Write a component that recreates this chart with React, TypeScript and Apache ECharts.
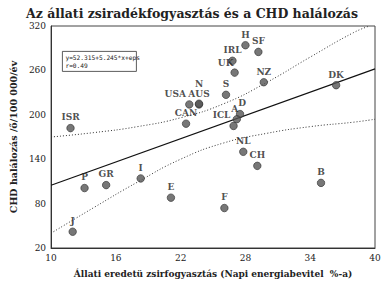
import React, { useEffect, useRef } from "react";
import * as echarts from "echarts";

const countries = ["J", "P", "GR", "I", "E", "ISR", "CAN", "USA", "AUS", "N", "S", "IRL", "UK", "H", "SF", "NZ", "D", "A", "ICL", "NL", "CH", "B", "F", "DK"];
const fatPct = [12.0, 13.1, 15.1, 18.3, 21.1, 11.8, 22.5, 22.8, 23.7, 23.7, 26.2, 26.8, 27.0, 28.0, 29.2, 29.7, 27.5, 27.2, 26.9, 27.8, 29.1, 35.0, 26.05, 36.4];
const chdRate = [42, 101, 105, 114, 88, 182, 188, 214, 214, 215, 227, 273, 257, 294, 285, 244, 201, 194, 185, 150, 131, 108, 74, 240];
const labelOffsets: Record<string, [number, number]> = { USA: [-14, 0], N: [0, -9], UK: [-9, 1], ICL: [-12, 0], A: [-2, 0], D: [2, 0] };

const xTicks = [10, 16, 22, 28, 34, 40];
const yTicks = [20, 80, 140, 200, 260, 320];

const bandX = [10, 14, 18, 22, 26, 30, 34, 38, 39.5];
const upperBand = [170, 176, 184, 196, 215, 244, 278, 311, 320];
const lowerX = [10, 14, 18, 22, 26, 30, 34, 38, 40];
const lowerBand = [40, 75, 109, 140, 162, 175, 184, 190, 194];

const regIntercept = 52.315;
const regSlope = 5.245;

const serif = "'DejaVu Serif', 'Liberation Serif', serif";

export default function App() {
  const ref = useRef<HTMLDivElement>(null);
  useEffect(() => {
    const chart = echarts.init(ref.current!, null, { renderer: "svg" });
    const pts = countries.map((c, i) => {
      const off = labelOffsets[c] || [0, 0];
      return {
        name: c,
        value: [fatPct[i], chdRate[i]],
        label: { offset: off },
      };
    });
    chart.setOption({
      animation: false,
      backgroundColor: "#fff",
      title: {
        text: "Az állati zsiradékfogyasztás és a CHD halálozás",
        left: "center",
        top: 2,
        textStyle: { fontFamily: serif, fontWeight: "bold", fontSize: 12.5, color: "#222" },
      },
      grid: { left: 43, right: 9, top: 26, bottom: 40, show: true, borderColor: "#444", borderWidth: 1 },
      xAxis: {
        type: "value",
        min: 10,
        max: 40,
        name: "Állati eredetü zsirfogyasztás (Napi energiabevitel  %-a)",
        nameLocation: "middle",
        nameGap: 21,
        nameTextStyle: { fontFamily: serif, fontSize: 9, fontWeight: "bold", color: "#222" },
        axisLine: { show: true, lineStyle: { color: "#333" } },
        axisTick: { show: false, customValues: xTicks },
        axisLabel: { customValues: xTicks, fontFamily: serif, fontSize: 9, color: "#222", margin: 5 },
        splitLine: { show: false },
      },
      yAxis: {
        type: "value",
        min: 20,
        max: 320,
        name: "CHD halálozás /ő/100 000/év",
        nameLocation: "middle",
        nameGap: 30,
        nameTextStyle: { fontFamily: serif, fontSize: 9.5, fontWeight: "bold", color: "#222" },
        axisLine: { show: true, lineStyle: { color: "#333" } },
        axisTick: { show: false, customValues: yTicks },
        axisLabel: { customValues: yTicks, fontFamily: serif, fontSize: 9, color: "#222", margin: 5 },
        splitLine: { show: false },
      },
      series: [
        {
          type: "line",
          data: [10, 40].map((x) => [x, regIntercept + regSlope * x]),
          showSymbol: false,
          lineStyle: { color: "#111", width: 1.2 },
          z: 2,
        },
        {
          type: "line",
          data: bandX.map((x, i) => [x, upperBand[i]]),
          showSymbol: false,
          smooth: true,
          lineStyle: { color: "#333", width: 1, type: [1, 2] },
          z: 2,
        },
        {
          type: "line",
          data: lowerX.map((x, i) => [x, lowerBand[i]]),
          showSymbol: false,
          smooth: true,
          lineStyle: { color: "#333", width: 1, type: [1, 2] },
          z: 2,
        },
        {
          type: "scatter",
          data: pts,
          symbolSize: 7.5,
          itemStyle: { color: "#555", borderColor: "#333", borderWidth: 0.8 },
          label: {
            show: true,
            position: "top",
            distance: 2,
            formatter: "{b}",
            fontFamily: serif,
            fontSize: 9,
            fontWeight: "bold",
            color: "#222",
          },
          z: 3,
        },
      ],
      graphic: [
        {
          type: "group",
          left: 62,
          top: 51,
          children: [
            { type: "rect", shape: { x: 0, y: 0, width: 74, height: 20 }, style: { fill: "#fff", stroke: "#333", lineWidth: 0.8 } },
            { type: "text", x: 3, y: 3, style: { text: "y=52.315+5.245*x+eps", font: "6.2px 'DejaVu Sans Mono', monospace", fill: "#222" } },
            { type: "text", x: 3, y: 11, style: { text: "r=0.49", font: "6.2px 'DejaVu Sans Mono', monospace", fill: "#222" } },
          ],
        },
      ],
    });
    return () => chart.dispose();
  }, []);
  return <div ref={ref} style={{ width: 384, height: 288, position: "absolute", left: 0, top: 0 }} />;
}
